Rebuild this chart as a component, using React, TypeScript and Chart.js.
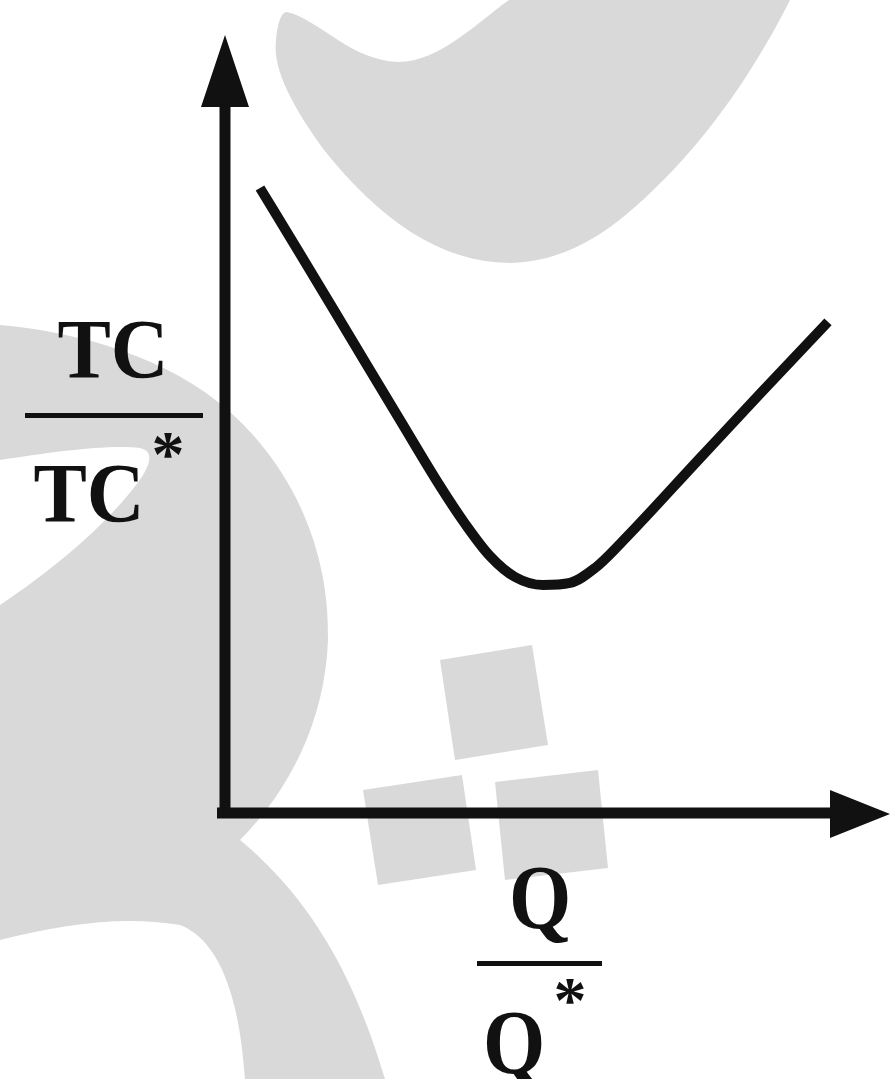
import React, { useEffect, useRef } from "react";
import { Chart, registerables } from "chart.js";

Chart.register(...registerables);

// Q / Q*  (horizontal axis values)
const qRatio = [0.11, 0.236, 0.393, 0.55, 0.676, 0.755, 0.833, 0.912, 1.0, 1.085, 1.164, 1.242, 1.494, 1.682, 1.896];
// TC / TC*  (vertical axis values)
const tcRatio = [2.741, 2.452, 2.088, 1.724, 1.434, 1.268, 1.127, 1.035, 1.0, 1.009, 1.075, 1.18, 1.557, 1.838, 2.154];

const xMax = 2.091;
const yMax = 3.412;

const yLabelTop = "TC";
const yLabelBottom = "TC";
const xLabelTop = "Q";
const xLabelBottom = "Q";
const starMark = "*";

const INK = "#111111";
const WATERMARK = "#d9d9d9";
const SERIF = '"Liberation Serif", "DejaVu Serif", serif';

const drawWatermarks = (ctx: CanvasRenderingContext2D) => {
  ctx.save();
  ctx.fillStyle = WATERMARK;
  // top crescent
  ctx.beginPath();
  ctx.moveTo(287, 12);
  ctx.bezierCurveTo(320, 20, 350, 60, 398, 62);
  ctx.bezierCurveTo(440, 62, 480, 20, 509, 0);
  ctx.lineTo(790, 0);
  ctx.bezierCurveTo(760, 60, 720, 120, 676, 167);
  ctx.bezierCurveTo(630, 215, 580, 262, 509, 263);
  ctx.bezierCurveTo(440, 262, 380, 220, 324, 150);
  ctx.bezierCurveTo(295, 110, 272, 70, 276, 40);
  ctx.bezierCurveTo(278, 20, 282, 12, 287, 12);
  ctx.closePath();
  ctx.fill();

  // big left shape
  ctx.beginPath();
  ctx.moveTo(0, 325);
  ctx.bezierCurveTo(80, 332, 170, 358, 230, 412);
  ctx.bezierCurveTo(300, 475, 330, 560, 328, 640);
  ctx.bezierCurveTo(325, 720, 290, 790, 240, 840);
  ctx.bezierCurveTo(300, 890, 350, 960, 385, 1079);
  ctx.lineTo(245, 1079);
  ctx.bezierCurveTo(240, 1000, 220, 940, 180, 925);
  ctx.bezierCurveTo(120, 915, 60, 925, 0, 940);
  ctx.closePath();
  ctx.fill();

  // white wedge inside left shape
  ctx.fillStyle = "#ffffff";
  ctx.beginPath();
  ctx.moveTo(0, 460);
  ctx.bezierCurveTo(50, 452, 110, 444, 140, 448);
  ctx.bezierCurveTo(158, 452, 148, 472, 128, 495);
  ctx.bezierCurveTo(95, 535, 45, 575, 0, 605);
  ctx.closePath();
  ctx.fill();

  // tilted squares
  ctx.fillStyle = WATERMARK;
  const quad = (pts: number[][]) => {
    ctx.beginPath();
    ctx.moveTo(pts[0][0], pts[0][1]);
    for (let i = 1; i < pts.length; i++) ctx.lineTo(pts[i][0], pts[i][1]);
    ctx.closePath();
    ctx.fill();
  };
  quad([[440, 660], [532, 645], [548, 745], [455, 760]]);
  quad([[363, 790], [462, 775], [476, 870], [378, 885]]);
  quad([[495, 782], [598, 770], [608, 868], [505, 880]]);
  ctx.restore();
};

const drawStretchedText = (
  ctx: CanvasRenderingContext2D,
  text: string,
  cx: number,
  baseline: number,
  size: number,
  stretch: number
) => {
  ctx.save();
  ctx.translate(cx, baseline);
  ctx.scale(1, stretch);
  ctx.font = `bold ${size}px ${SERIF}`;
  ctx.textAlign = "center";
  ctx.textBaseline = "alphabetic";
  ctx.fillStyle = INK;
  ctx.fillText(text, 0, 0);
  ctx.restore();
};

const axesPlugin = {
  id: "axesAndLabels",
  beforeDraw(chart: any) {
    const ctx = chart.ctx as CanvasRenderingContext2D;
    ctx.save();
    ctx.fillStyle = "#ffffff";
    ctx.fillRect(0, 0, chart.width, chart.height);
    ctx.restore();
    drawWatermarks(ctx);

    const xs = chart.scales.x;
    const ys = chart.scales.y;
    const x0 = xs.getPixelForValue(0);
    const y0 = ys.getPixelForValue(0);
    const yTop = ys.getPixelForValue(yMax);
    const xEnd = xs.getPixelForValue(xMax);

    ctx.save();
    ctx.strokeStyle = INK;
    ctx.fillStyle = INK;
    ctx.lineWidth = 11;
    ctx.lineCap = "butt";
    // y axis
    ctx.beginPath();
    ctx.moveTo(x0, y0 + 5);
    ctx.lineTo(x0, yTop + 60);
    ctx.stroke();
    ctx.beginPath();
    ctx.moveTo(x0, yTop);
    ctx.lineTo(x0 - 24, yTop + 72);
    ctx.lineTo(x0 + 24, yTop + 72);
    ctx.closePath();
    ctx.fill();
    // x axis
    ctx.beginPath();
    ctx.moveTo(x0 - 8, y0);
    ctx.lineTo(xEnd - 50, y0);
    ctx.stroke();
    ctx.beginPath();
    ctx.moveTo(xEnd, y0 + 1);
    ctx.lineTo(xEnd - 60, y0 - 23);
    ctx.lineTo(xEnd - 60, y0 + 25);
    ctx.closePath();
    ctx.fill();
    ctx.restore();
  },
  afterDraw(chart: any) {
    const ctx = chart.ctx as CanvasRenderingContext2D;
    // y-axis title: TC / TC*
    drawStretchedText(ctx, yLabelTop, 113, 378, 80, 1.06);
    ctx.save();
    ctx.fillStyle = INK;
    ctx.fillRect(25, 413, 178, 5);
    ctx.restore();
    drawStretchedText(ctx, yLabelBottom, 89, 522, 80, 1.06);
    drawStretchedText(ctx, starMark, 168, 476, 66, 1.0);

    // x-axis title: Q / Q*
    drawStretchedText(ctx, xLabelTop, 540, 928, 80, 1.15);
    ctx.save();
    ctx.fillStyle = INK;
    ctx.fillRect(477, 961, 125, 5);
    ctx.restore();
    drawStretchedText(ctx, xLabelBottom, 514, 1073, 80, 1.15);
    drawStretchedText(ctx, starMark, 570, 1022, 66, 1.0);
  },
};

export default function App() {
  const ref = useRef<HTMLCanvasElement | null>(null);

  useEffect(() => {
    document.body.style.margin = "0";
    if (!ref.current) return;
    const chart = new Chart(ref.current, {
      type: "line",
      data: {
        datasets: [
          {
            data: qRatio.map((q, i) => ({ x: q, y: tcRatio[i] })),
            borderColor: INK,
            borderWidth: 10,
            pointRadius: 0,
            tension: 0.4,
            cubicInterpolationMode: "monotone",
            fill: false,
            clip: false as any,
          },
        ],
      },
      options: {
        responsive: false,
        animation: false,
        devicePixelRatio: 1,
        layout: { padding: { left: 225, right: 3, top: 35, bottom: 266 } },
        plugins: { legend: { display: false }, tooltip: { enabled: false }, title: { display: false } },
        scales: {
          x: { type: "linear", min: 0, max: xMax, display: false },
          y: { type: "linear", min: 0, max: yMax, display: false },
        },
      },
      plugins: [axesPlugin],
    });
    return () => chart.destroy();
  }, []);

  return (
    <div style={{ position: "fixed", left: 0, top: 0, width: 893, height: 1079, background: "#fff" }}>
      <canvas ref={ref} width={893} height={1079} style={{ display: "block", width: 893, height: 1079 }} />
    </div>
  );
}
